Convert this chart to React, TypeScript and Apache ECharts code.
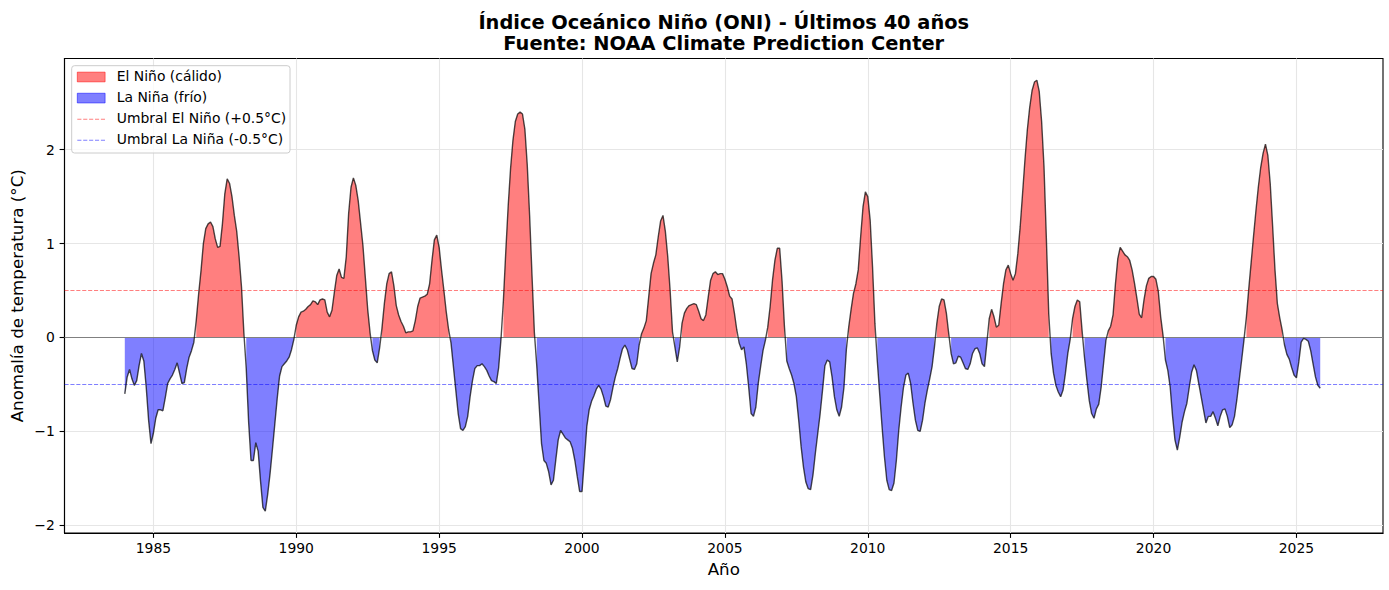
import React, { useEffect, useRef } from "react";
import * as echarts from "echarts";

// ---- Data (monthly ONI values, Jan 1984 – Nov 2025) ----
const START_YEAR = 1984;

const oni1980s = [
  -0.60, -0.42, -0.34, -0.44, -0.51, -0.46, -0.30, -0.17, -0.25, -0.53, -0.88, -1.13, // 1984
  -1.02, -0.86, -0.77, -0.77, -0.78, -0.64, -0.49, -0.44, -0.40, -0.34, -0.27, -0.38, // 1985
  -0.49, -0.48, -0.33, -0.21, -0.14, -0.05, 0.18, 0.46, 0.71, 1.00, 1.16, 1.21, // 1986
  1.23, 1.18, 1.05, 0.96, 0.97, 1.21, 1.53, 1.69, 1.64, 1.50, 1.30, 1.13, // 1987
  0.86, 0.54, 0.05, -0.33, -0.90, -1.31, -1.31, -1.12, -1.21, -1.53, -1.81, -1.85, // 1988
  -1.67, -1.45, -1.19, -0.92, -0.65, -0.41, -0.31, -0.28, -0.25, -0.21, -0.13, -0.02, // 1989
];

const oni1990s = [
  0.13, 0.22, 0.27, 0.28, 0.30, 0.33, 0.35, 0.39, 0.38, 0.35, 0.40, 0.41, // 1990
  0.40, 0.27, 0.22, 0.29, 0.48, 0.66, 0.73, 0.64, 0.63, 0.86, 1.32, 1.60, // 1991
  1.70, 1.62, 1.46, 1.22, 0.98, 0.64, 0.30, 0.05, -0.14, -0.24, -0.27, -0.11, // 1992
  0.10, 0.36, 0.57, 0.68, 0.70, 0.55, 0.34, 0.24, 0.17, 0.12, 0.05, 0.06, // 1993
  0.06, 0.07, 0.18, 0.33, 0.42, 0.43, 0.44, 0.46, 0.57, 0.82, 1.04, 1.09, // 1994
  0.96, 0.72, 0.50, 0.27, 0.08, -0.06, -0.31, -0.56, -0.81, -0.97, -0.99, -0.95, // 1995
  -0.84, -0.63, -0.46, -0.33, -0.30, -0.30, -0.28, -0.31, -0.35, -0.41, -0.46, -0.47, // 1996
  -0.49, -0.32, -0.01, 0.40, 0.92, 1.40, 1.80, 2.10, 2.30, 2.38, 2.40, 2.38, // 1997
  2.22, 1.84, 1.30, 0.66, 0.05, -0.30, -0.72, -1.13, -1.31, -1.34, -1.43, -1.57, // 1998
  -1.52, -1.30, -1.09, -0.99, -1.03, -1.07, -1.09, -1.11, -1.18, -1.31, -1.48, -1.64, // 1999
];

const oni2000s = [
  -1.64, -1.30, -0.95, -0.77, -0.68, -0.62, -0.55, -0.51, -0.55, -0.63, -0.73, -0.74, // 2000
  -0.66, -0.53, -0.42, -0.33, -0.22, -0.12, -0.08, -0.13, -0.23, -0.33, -0.34, -0.28, // 2001
  -0.08, 0.04, 0.10, 0.18, 0.43, 0.68, 0.79, 0.88, 1.07, 1.24, 1.30, 1.13, // 2002
  0.86, 0.50, 0.06, -0.10, -0.26, -0.10, 0.15, 0.26, 0.31, 0.34, 0.35, 0.36, // 2003
  0.35, 0.28, 0.20, 0.18, 0.24, 0.43, 0.61, 0.68, 0.70, 0.67, 0.68, 0.68, // 2004
  0.62, 0.54, 0.44, 0.41, 0.26, 0.08, -0.06, -0.13, -0.10, -0.28, -0.53, -0.81, // 2005
  -0.84, -0.74, -0.49, -0.31, -0.14, -0.03, 0.11, 0.33, 0.61, 0.82, 0.95, 0.95, // 2006
  0.60, 0.12, -0.25, -0.33, -0.40, -0.49, -0.63, -0.88, -1.16, -1.38, -1.54, -1.61, // 2007
  -1.62, -1.46, -1.23, -1.02, -0.81, -0.56, -0.30, -0.24, -0.26, -0.42, -0.63, -0.77, // 2008
  -0.84, -0.74, -0.53, -0.13, 0.11, 0.30, 0.47, 0.57, 0.72, 1.07, 1.39, 1.55, // 2009
];

const oni2010s = [
  1.50, 1.25, 0.75, 0.15, -0.25, -0.60, -0.95, -1.27, -1.52, -1.62, -1.63, -1.55, // 2010
  -1.31, -0.99, -0.74, -0.53, -0.40, -0.38, -0.49, -0.70, -0.88, -0.99, -1.00, -0.88, // 2011
  -0.70, -0.56, -0.44, -0.31, -0.10, 0.15, 0.33, 0.41, 0.40, 0.26, 0.04, -0.17, // 2012
  -0.28, -0.27, -0.20, -0.21, -0.27, -0.33, -0.34, -0.28, -0.17, -0.12, -0.11, -0.17, // 2013
  -0.28, -0.31, -0.06, 0.20, 0.30, 0.22, 0.11, 0.13, 0.36, 0.57, 0.72, 0.77, // 2014
  0.68, 0.61, 0.68, 0.89, 1.18, 1.53, 1.89, 2.21, 2.45, 2.63, 2.72, 2.74, // 2015
  2.62, 2.30, 1.82, 1.05, 0.25, -0.17, -0.38, -0.51, -0.58, -0.63, -0.56, -0.38, // 2016
  -0.17, -0.02, 0.20, 0.33, 0.40, 0.38, 0.07, -0.21, -0.45, -0.67, -0.81, -0.86, // 2017
  -0.76, -0.71, -0.53, -0.28, -0.03, 0.07, 0.12, 0.24, 0.57, 0.84, 0.96, 0.92, // 2018
  0.88, 0.86, 0.82, 0.72, 0.58, 0.42, 0.25, 0.21, 0.40, 0.55, 0.63, 0.65, // 2019
];

const oni2020s = [
  0.65, 0.62, 0.49, 0.22, 0.02, -0.24, -0.35, -0.53, -0.84, -1.09, -1.20, -1.06, // 2020
  -0.90, -0.79, -0.70, -0.53, -0.37, -0.29, -0.35, -0.49, -0.63, -0.77, -0.91, -0.84, // 2021
  -0.84, -0.79, -0.86, -0.94, -0.84, -0.77, -0.76, -0.84, -0.96, -0.93, -0.84, -0.66, // 2022
  -0.45, -0.24, -0.02, 0.22, 0.52, 0.80, 1.08, 1.35, 1.60, 1.81, 1.96, 2.06, // 2023
  1.94, 1.64, 1.19, 0.72, 0.36, 0.21, 0.08, -0.08, -0.18, -0.23, -0.32, -0.40, // 2024
  -0.43, -0.26, -0.05, -0.01, -0.02, -0.04, -0.14, -0.28, -0.42, -0.51, -0.54, // 2025 (Jan–Nov)
];

const xTicks = [1985, 1990, 1995, 2000, 2005, 2010, 2015, 2020, 2025];
const yTicks = [-2, -1, 0, 1, 2];
const THRESH_NINO = 0.5;
const THRESH_NINA = -0.5;

const TITLE_1 = "Índice Oceánico Niño (ONI) - Últimos 40 años";
const TITLE_2 = "Fuente: NOAA Climate Prediction Center";
const X_NAME = "Año";
const Y_NAME = "Anomalía de temperatura (°C)";
const LEGEND_LABELS = [
  "El Niño (cálido)",
  "La Niña (frío)",
  "Umbral El Niño (+0.5°C)",
  "Umbral La Niña (-0.5°C)",
];

// ---- Layout / style constants ----
const W = 1389;
const H = 590;
const GRID = { left: 64.5, right: 6, top: 58.5, bottom: 57 };
const X_MIN = 1981.89;
const X_MAX = 2028.03;
const Y_MIN = -2.082;
const Y_MAX = 2.971;
const FONT = "'DejaVu Sans', 'Liberation Sans', sans-serif";
const RED_FILL = "rgba(255,0,0,0.5)";
const BLUE_FILL = "rgba(0,0,255,0.5)";
const DASH = [4.1, 1.8];

export default function App() {
  const ref = useRef<HTMLDivElement | null>(null);

  useEffect(() => {
    if (!ref.current) return;
    const chart = echarts.init(ref.current, undefined, { renderer: "svg" });

    const values = [...oni1980s, ...oni1990s, ...oni2000s, ...oni2010s, ...oni2020s];
    const pts = values.map((v, i) => [START_YEAR + i / 12, v]);
    const pos = pts.map(([x, v]) => [x, v > 0 ? v : null]);
    const neg = pts.map(([x, v]) => [x, v < 0 ? v : null]);

    const minus = (v: number) => String(v).replace("-", "\u2212");

    const plotCx = (GRID.left + (W - GRID.right)) / 2;
    const plotCy = (GRID.top + (H - GRID.bottom)) / 2;

    const legendX = 71.7;
    const legendY = 65.7;
    const rowCap = [75.9, 97.0, 118.1, 139.2];
    const handleC = rowCap.map((c) => c + 1.1);
    const hx1 = 77.3;
    const hx2 = 105.1;
    const textX = 116.8;

    const legendEls: any[] = [
      {
        type: "rect",
        z: 100,
        shape: { x: legendX, y: legendY, width: 290 - legendX, height: 153 - legendY, r: 2.8 },
        style: { fill: "rgba(255,255,255,0.8)", stroke: "#cccccc", lineWidth: 1 },
      },
      {
        type: "rect",
        z: 101,
        shape: { x: hx1, y: handleC[0] - 4.85, width: hx2 - hx1, height: 9.7 },
        style: { fill: RED_FILL, stroke: RED_FILL, lineWidth: 1 },
      },
      {
        type: "rect",
        z: 101,
        shape: { x: hx1, y: handleC[1] - 4.85, width: hx2 - hx1, height: 9.7 },
        style: { fill: BLUE_FILL, stroke: BLUE_FILL, lineWidth: 1 },
      },
      {
        type: "line",
        z: 101,
        shape: { x1: hx1, y1: handleC[2], x2: hx2, y2: handleC[2] },
        style: { stroke: RED_FILL, lineWidth: 1.1, lineDash: DASH },
      },
      {
        type: "line",
        z: 101,
        shape: { x1: hx1, y1: handleC[3], x2: hx2, y2: handleC[3] },
        style: { stroke: BLUE_FILL, lineWidth: 1.1, lineDash: DASH },
      },
      ...LEGEND_LABELS.map((t, i) => ({
        type: "text",
        z: 101,
        x: textX,
        y: rowCap[i],
        style: {
          text: t,
          fill: "#000",
          fontSize: 13.9,
          fontFamily: FONT,
          align: "left",
          verticalAlign: "middle",
        },
      })),
    ];

    const textEls: any[] = [
      {
        type: "text",
        z: 100,
        x: plotCx,
        y: 22.4,
        style: {
          text: TITLE_1,
          fill: "#000",
          fontSize: 19.4,
          fontWeight: "bold",
          fontFamily: FONT,
          align: "center",
          verticalAlign: "middle",
        },
      },
      {
        type: "text",
        z: 100,
        x: plotCx,
        y: 43.9,
        style: {
          text: TITLE_2,
          fill: "#000",
          fontSize: 19.4,
          fontWeight: "bold",
          fontFamily: FONT,
          align: "center",
          verticalAlign: "middle",
        },
      },
      {
        type: "text",
        z: 100,
        x: plotCx,
        y: 569,
        style: {
          text: X_NAME,
          fill: "#000",
          fontSize: 16.7,
          fontFamily: FONT,
          align: "center",
          verticalAlign: "middle",
        },
      },
      {
        type: "text",
        z: 100,
        x: 17,
        y: plotCy,
        rotation: Math.PI / 2,
        style: {
          text: Y_NAME,
          fill: "#000",
          fontSize: 16.7,
          fontFamily: FONT,
          align: "center",
          verticalAlign: "middle",
        },
      },
    ];

    const axisCommon = {
      axisLine: { show: true, onZero: false, lineStyle: { color: "#000", width: 1.1 } },
      splitLine: { show: true, lineStyle: { color: "#e6e6e6", width: 1.1 } },
    };

    chart.setOption({
      animation: false,
      backgroundColor: "#ffffff",
      grid: {
        left: GRID.left,
        right: GRID.right,
        top: GRID.top,
        bottom: GRID.bottom,
        show: true,
        borderColor: "#000",
        borderWidth: 1.1,
        backgroundColor: "transparent",
        containLabel: false,
      },
      xAxis: {
        type: "value",
        min: X_MIN,
        max: X_MAX,
        ...axisCommon,
        axisTick: {
          show: true,
          inside: false,
          length: 4.9,
          customValues: xTicks,
          lineStyle: { color: "#000", width: 1.1 },
        },
        axisLabel: {
          show: true,
          customValues: xTicks,
          formatter: (v: number) => String(v),
          color: "#000",
          fontSize: 13.9,
          fontFamily: FONT,
          margin: 8,
        },
      },
      yAxis: {
        type: "value",
        min: Y_MIN,
        max: Y_MAX,
        ...axisCommon,
        axisTick: {
          show: true,
          inside: false,
          length: 4.9,
          customValues: yTicks,
          lineStyle: { color: "#000", width: 1.1 },
        },
        axisLabel: {
          show: true,
          customValues: yTicks,
          formatter: (v: number) => minus(v),
          color: "#000",
          fontSize: 13.9,
          fontFamily: FONT,
          margin: 9.7,
        },
      },
      series: [
        {
          name: LEGEND_LABELS[0],
          type: "line",
          data: pos,
          symbol: "none",
          silent: true,
          connectNulls: false,
          lineStyle: { width: 0, opacity: 0 },
          areaStyle: { color: RED_FILL, origin: 0, opacity: 1 },
          z: 1,
        },
        {
          name: LEGEND_LABELS[1],
          type: "line",
          data: neg,
          symbol: "none",
          silent: true,
          connectNulls: false,
          lineStyle: { width: 0, opacity: 0 },
          areaStyle: { color: BLUE_FILL, origin: 0, opacity: 1 },
          z: 1,
        },
        {
          name: "cero",
          type: "line",
          data: [
            [X_MIN, 0],
            [X_MAX, 0],
          ],
          symbol: "none",
          silent: true,
          lineStyle: { color: "#808080", width: 1.1 },
          z: 3,
        },
        {
          name: LEGEND_LABELS[2],
          type: "line",
          data: [
            [X_MIN, THRESH_NINO],
            [X_MAX, THRESH_NINO],
          ],
          symbol: "none",
          silent: true,
          lineStyle: { color: RED_FILL, width: 1.1, type: DASH },
          z: 3,
        },
        {
          name: LEGEND_LABELS[3],
          type: "line",
          data: [
            [X_MIN, THRESH_NINA],
            [X_MAX, THRESH_NINA],
          ],
          symbol: "none",
          silent: true,
          lineStyle: { color: BLUE_FILL, width: 1.1, type: DASH },
          z: 3,
        },
        {
          name: "ONI",
          type: "line",
          data: pts,
          symbol: "none",
          silent: true,
          lineStyle: { color: "rgba(0,0,0,0.7)", width: 1.4 },
          z: 5,
        },
      ],
      graphic: { elements: [...legendEls, ...textEls] },
    });

    return () => {
      chart.dispose();
    };
  }, []);

  return (
    <div
      ref={ref}
      style={{ position: "absolute", left: 0, top: 0, width: W + "px", height: H + "px", background: "#fff" }}
    />
  );
}
